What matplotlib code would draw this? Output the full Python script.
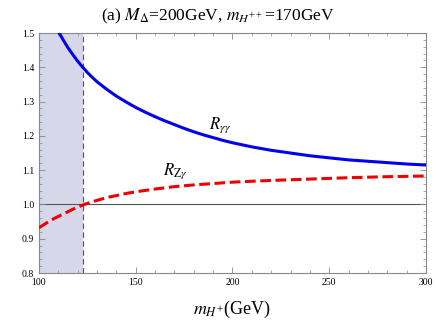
import matplotlib
matplotlib.use("Agg")
import matplotlib.pyplot as plt
from matplotlib.ticker import MultipleLocator

plt.rcParams['font.family'] = ['Liberation Serif', 'DejaVu Serif']
plt.rcParams['mathtext.fontset'] = 'stix'

# Data
m_gg = [110, 112.5, 115, 117.5, 120, 122.5, 125, 127.5, 130, 135, 140, 145, 150, 155, 160,
        165, 170, 175, 180, 185, 190, 195, 200, 210, 220, 230, 240, 250, 260, 270, 280, 290, 300]
R_gg = [1.505, 1.480, 1.457, 1.437, 1.418, 1.401, 1.385, 1.371, 1.358, 1.336, 1.316, 1.299,
        1.283, 1.269, 1.256, 1.244, 1.233, 1.222, 1.212, 1.203, 1.195, 1.187, 1.180, 1.168,
        1.158, 1.150, 1.142, 1.136, 1.130, 1.126, 1.122, 1.118, 1.115]
m_zg = [100, 102.5, 105, 107.5, 110, 112.5, 115, 117.5, 120, 122.5, 125, 130, 135, 140, 145,
        150, 160, 170, 180, 190, 200, 215, 230, 245, 260, 280, 300]
R_zg = [0.932, 0.941, 0.950, 0.958, 0.965, 0.972, 0.979, 0.986, 0.992, 0.998, 1.003, 1.012,
        1.020, 1.026, 1.032, 1.037, 1.045, 1.052, 1.057, 1.061, 1.065, 1.069, 1.072, 1.075,
        1.078, 1.081, 1.083]
excluded = [100, 123]
x_ticks = [100, 150, 200, 250, 300]
y_ticks = [0.8, 0.9, 1.0, 1.1, 1.2, 1.3, 1.4, 1.5]

fig = plt.figure(figsize=(4.36, 3.21), dpi=100)
ax = fig.add_axes([0.0894, 0.1495, 0.8876, 0.7475])

ax.axvspan(excluded[0], excluded[1], color='#d6d8ea', lw=0, zorder=0)
ax.axvline(excluded[1], color='#8c2b8c', lw=0.8, ls=(0, (5, 3)), zorder=1)
ax.axhline(1.0, color='#555555', lw=0.8, zorder=1)

ax.plot(m_gg, R_gg, color='#0000ee', lw=2.2, zorder=3, solid_joinstyle='round')
ax.plot(m_zg, R_zg, color='#ee0000', lw=2.2, ls=(0, (3.5, 1.5)), zorder=3)

ax.text(188, 1.222, r'$R_{\gamma\gamma}$', fontsize=12)
ax.text(164, 1.086, r'$R_{\mathrm{Z}\gamma}$', fontsize=12)

ax.set_xlim(100, 300)
ax.set_ylim(0.8, 1.5)
ax.set_xticks(x_ticks)
ax.set_yticks(y_ticks)
ax.set_xticklabels([str(v) for v in x_ticks])
ax.set_yticklabels([f'{v:.1f}' for v in y_ticks])
ax.xaxis.set_minor_locator(MultipleLocator(10))
ax.yaxis.set_minor_locator(MultipleLocator(0.02))
ax.tick_params(which='both', direction='in', top=True, right=True, colors='#888888',
               labelcolor='black', labelsize=7)
ax.tick_params(which='major', length=4, width=0.6)
ax.tick_params(which='minor', length=2, width=0.5)
for s in ax.spines.values():
    s.set_color('#888888')
    s.set_linewidth(0.8)

ax.set_xlabel(r'$m_{H^{+}}$(GeV)', fontsize=13, labelpad=9)
fig.text(0.5, 0.935, r'(a) $M_{\Delta}$=200GeV, $m_{H^{++}}$=170GeV', ha='center',
         va='baseline', fontsize=12.5)

fig.savefig('out.png', dpi=100)
